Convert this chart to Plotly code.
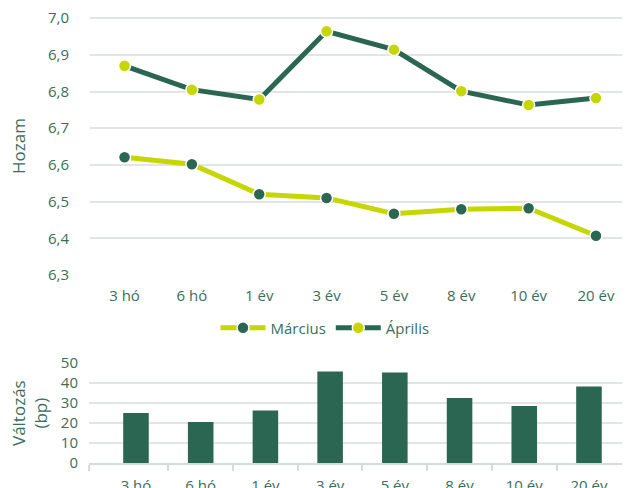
import plotly.graph_objects as go

categories = ["3 hó", "6 hó", "1 év", "3 év", "5 év", "8 év", "10 év", "20 év"]
marcius = [6.621, 6.602, 6.520, 6.510, 6.467, 6.479, 6.482, 6.407]
aprilis = [6.870, 6.805, 6.778, 6.964, 6.914, 6.801, 6.763, 6.782]
valtozas = [25.0, 20.5, 26.2, 45.8, 45.2, 32.5, 28.5, 38.3]

DARK = "#2b6652"
LIME = "#c5d600"
TEXT = "#3a6e5c"
GRID = "#e1e6e4"
FONT = "Open Sans"

W, H = 630.0, 488.0
OFF = 8.0  # page body margin


def px(x):
    return (x - OFF) / W


def py(y):
    return 1 - (y - OFF) / H


fig = go.Figure()

fig.add_trace(go.Scatter(
    x=categories, y=marcius, name="Március", mode="lines+markers",
    line=dict(color=LIME, width=5),
    marker=dict(color=DARK, size=12, line=dict(color="white", width=1.5)),
    xaxis="x", yaxis="y"))
fig.add_trace(go.Scatter(
    x=categories, y=aprilis, name="Április", mode="lines+markers",
    line=dict(color=DARK, width=5),
    marker=dict(color=LIME, size=12, line=dict(color="white", width=1.5)),
    xaxis="x", yaxis="y"))

idx = list(range(len(categories)))
fig.add_trace(go.Bar(
    x=idx, y=valtozas, marker=dict(color=DARK, line=dict(width=0)),
    width=0.395, showlegend=False, xaxis="x2", yaxis="y2"))

fig.update_layout(
    width=W, height=H,
    margin=dict(l=0, r=0, t=0, b=0, autoexpand=False),
    paper_bgcolor="white", plot_bgcolor="white",
    separators=", ",
    font=dict(family=FONT, size=14, color=TEXT),
    showlegend=True,
    legend=dict(orientation="h", x=px(325), xanchor="center", y=py(328), yanchor="middle",
                font=dict(size=15, color=TEXT), itemwidth=45, tracegroupgap=0,
                bgcolor="rgba(0,0,0,0)"),
    xaxis=dict(domain=[px(90), px(630.5)], anchor="y", type="category", automargin=False,
               showgrid=False, showline=False, ticks="",
               tickfont=dict(size=15, color=TEXT), ticklabelstandoff=10),
    yaxis=dict(domain=[py(275), py(17)], anchor="x", range=[6.3, 7.003], automargin=False,
               tickmode="array", tickvals=[6.3, 6.4, 6.5, 6.6, 6.7, 6.8, 6.9, 7.0],
               tickformat=".1f", showgrid=True, gridcolor=GRID, gridwidth=2,
               zeroline=False, showline=False, ticks="", ticklabeloverflow="allow",
               tickfont=dict(size=15, color=TEXT), ticklabelstandoff=20),
    xaxis2=dict(domain=[px(89), px(630)], anchor="y2", range=[-0.726, 7.634], automargin=False,
                tickmode="array", tickvals=idx, ticktext=categories, ticks="",
                showgrid=False, zeroline=False, showline=True, linecolor="#d5dbd9", linewidth=2,
                tickfont=dict(size=15, color=TEXT), ticklabelstandoff=8,
                ticklabeloverflow="allow",
                minor=dict(tickvals=[-0.726] + [i + 0.5 for i in idx[:-1]],
                           ticks="outside", ticklen=6, tickcolor="#d5dbd9", tickwidth=1.5,
                           showgrid=False)),
    yaxis2=dict(domain=[py(463), py(363)], anchor="x2", range=[0, 50], automargin=False,
                tickmode="array", tickvals=[0, 10, 20, 30, 40, 50],
                showgrid=True, gridcolor=GRID, gridwidth=2, zeroline=False,
                showline=False, ticks="", tickfont=dict(size=15, color=TEXT),
                ticklabelstandoff=10),
    annotations=[
        dict(text="Hozam", x=px(18), y=py(146), xref="paper", yref="paper",
             textangle=-90, showarrow=False, font=dict(size=17, color=TEXT),
             xanchor="center", yanchor="middle"),
        dict(text="Változás<br>(bp)", x=px(29), y=py(413), xref="paper", yref="paper",
             textangle=-90, showarrow=False, font=dict(size=17, color=TEXT),
             xanchor="center", yanchor="middle"),
    ],
)

fig.write_html("out.html")
